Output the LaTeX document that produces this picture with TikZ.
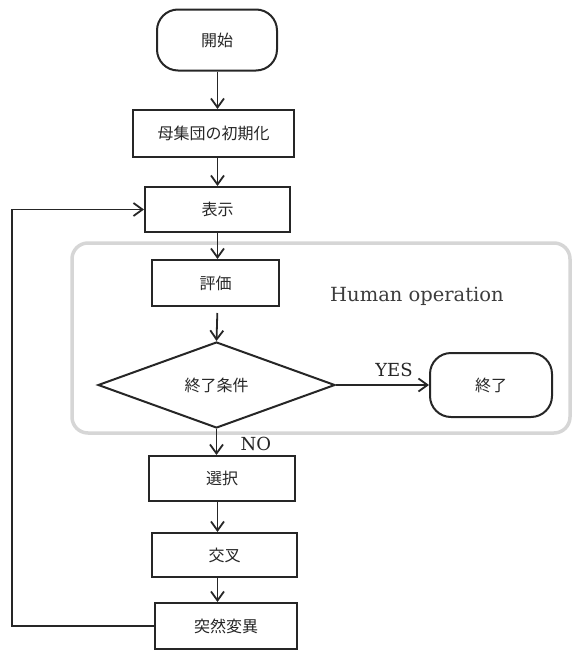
\documentclass[tikz,border=0pt]{standalone}
\usepackage{fontspec}
\newfontfamily\jpfont{Noto Sans CJK JP}
\newfontfamily\latinserif{DejaVu Serif}
\usetikzlibrary{shapes.geometric,arrows.meta}
\definecolor{ink}{HTML}{262626}
\definecolor{regionline}{HTML}{D6D6D6}
\tikzset{
  proc/.style={draw=ink, line width=2pt, rectangle, inner sep=0pt, font=\jpfont\fontsize{16}{18}\selectfont, text=ink},
  term/.style={draw=ink, line width=2pt, rectangle, rounded corners=21pt, inner sep=0pt, font=\jpfont\fontsize{16}{18}\selectfont, text=ink},
  decide/.style={draw=ink, line width=2pt, diamond, inner sep=0pt, font=\jpfont\fontsize{16}{18}\selectfont, text=ink},
  flow/.style={draw=ink, line width=1.8pt, -{Straight Barb[length=9pt,width=13pt,line width=1.8pt]}},
  lbl/.style={font=\latinserif\fontsize{18}{20}\selectfont, text=ink, inner sep=0pt},
  region/.style={draw=regionline, line width=3.5pt, rounded corners=16pt}
}
\begin{document}
\begin{tikzpicture}[x=1pt,y=-1pt]
\useasboundingbox (0,0) rectangle (577,651);
% human operation region
\draw[region] (72,243) rectangle (570,433);
\node[font=\latinserif\fontsize{19.5}{22}\selectfont, text=ink!90, inner sep=0pt] (human) at (417,296) {Human operation};
% nodes
\node[term, minimum width=120pt, minimum height=61pt] (start) at (217,40) {開始};
\node[proc, minimum width=161pt, minimum height=47pt] (init) at (213.5,133.5) {母集団の初期化};
\node[proc, minimum width=145pt, minimum height=45pt] (show) at (217.5,209.5) {表示};
\node[proc, minimum width=127pt, minimum height=46pt] (eval) at (215.5,283) {評価};
\node[decide, minimum width=237pt, minimum height=86pt] (cond) at (216.5,385) {終了条件};
\node[term, minimum width=122pt, minimum height=64pt] (end) at (491,385) {終了};
\node[proc, minimum width=146pt, minimum height=45pt] (sel) at (222,478.5) {選択};
\node[proc, minimum width=145pt, minimum height=44pt] (cross) at (224.5,555) {交叉};
\node[proc, minimum width=142pt, minimum height=46pt] (mut) at (226,626) {突然変異};
\coordinate (ax) at (217.5,0);
\coordinate (loopx) at (12,0);
% connectors
\draw[flow] (start.south -| ax) -- (init.north -| ax);
\draw[flow] (init.south -| ax) -- (show.north -| ax);
\draw[flow] (show.south -| ax) -- (eval.north -| ax);
\draw[flow, shorten <=6pt] (eval.south -| ax) -- (cond.north);
\draw[flow] (cond.east) -- (end.west);
\draw[flow] (cond.south) -- (sel.north -| cond.south);
\draw[flow] (sel.south -| ax) -- (cross.north -| ax);
\draw[flow] (cross.south -| ax) -- (mut.north -| ax);
\draw[flow] (mut.west) -- (mut.west -| loopx) -- (show.west -| loopx) -- (show.west);
% labels
\node[lbl] (yes) at (394,370) {YES};
\node[lbl] (no) at (256,444) {NO};
\end{tikzpicture}
\end{document}
